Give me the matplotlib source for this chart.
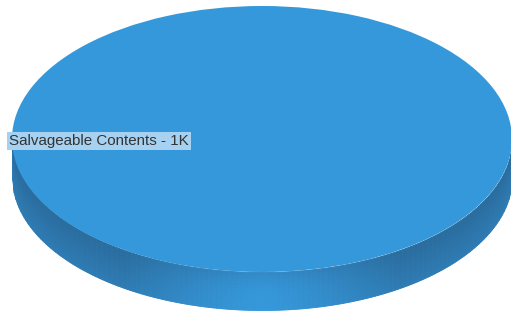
import numpy as np
import matplotlib.pyplot as plt
from matplotlib.patches import Wedge
from matplotlib.transforms import Affine2D
from matplotlib.colors import to_rgb

labels = ["Salvageable Contents"]
values = [1000]
display = ["1K"]
colors = ["#3598db"]

W, H = 511, 311
fig = plt.figure(figsize=(W / 100, H / 100), dpi=100)
ax = fig.add_axes([0, 0, 1, 1])
ax.set_xlim(0, W)
ax.set_ylim(H, 0)
ax.axis("off")

# ellipse geometry in pixels
cx, cy, rx, ry, depth = 262, 139, 250, 133, 38

# side of the 3D pie, darker toward the edges, lighter near the bottom middle
top = np.array(to_rgb(colors[0]))
dark = np.array(to_rgb("#2a6c9e"))
xs = np.linspace(cx - rx, cx + rx, 300)
nv = 12
for x0, x1 in zip(xs[:-1], xs[1:]):
    xm = (x0 + x1) / 2
    t = abs(xm - cx) / rx
    base = min(1, (t / 0.55) ** 1.3)
    xx = np.array([x0, x1])
    yb = cy + ry * np.sqrt(np.clip(1 - ((xx - cx) / rx) ** 2, 0, 1))
    for k in range(nv):
        f0, f1 = k / nv, (k + 1) / nv
        fm = (f0 + f1) / 2
        # seam slightly darker, lower part lighter
        shade = base * (1 - 0.35 * fm) + (0.35 * (1 - fm) ** 3) * (1 - base)
        c = top + (dark - top) * min(1, shade)
        ax.fill_between(xx, yb + depth * f0, yb + depth * f1, color=c,
                        lw=0.6, edgecolor=c)

# top face: slices from the values
total = sum(values)
tr = Affine2D().scale(rx, ry).translate(cx, cy) + ax.transData
start = 90
for v, col in zip(values, colors):
    sweep = 360 * v / total
    ax.add_patch(Wedge((0, 0), 1, start, start + sweep, facecolor=col,
                       edgecolor="none", transform=tr))
    start += sweep

for lab, d in zip(labels, display):
    ax.text(9, 141, f"{lab} - {d}", fontsize=10.9, family="Liberation Sans",
            color="#333333", va="center", ha="left",
            bbox=dict(boxstyle="square,pad=0.12", facecolor="#a6d1f0",
                      edgecolor="none"))

fig.savefig("out.png", dpi=100)
